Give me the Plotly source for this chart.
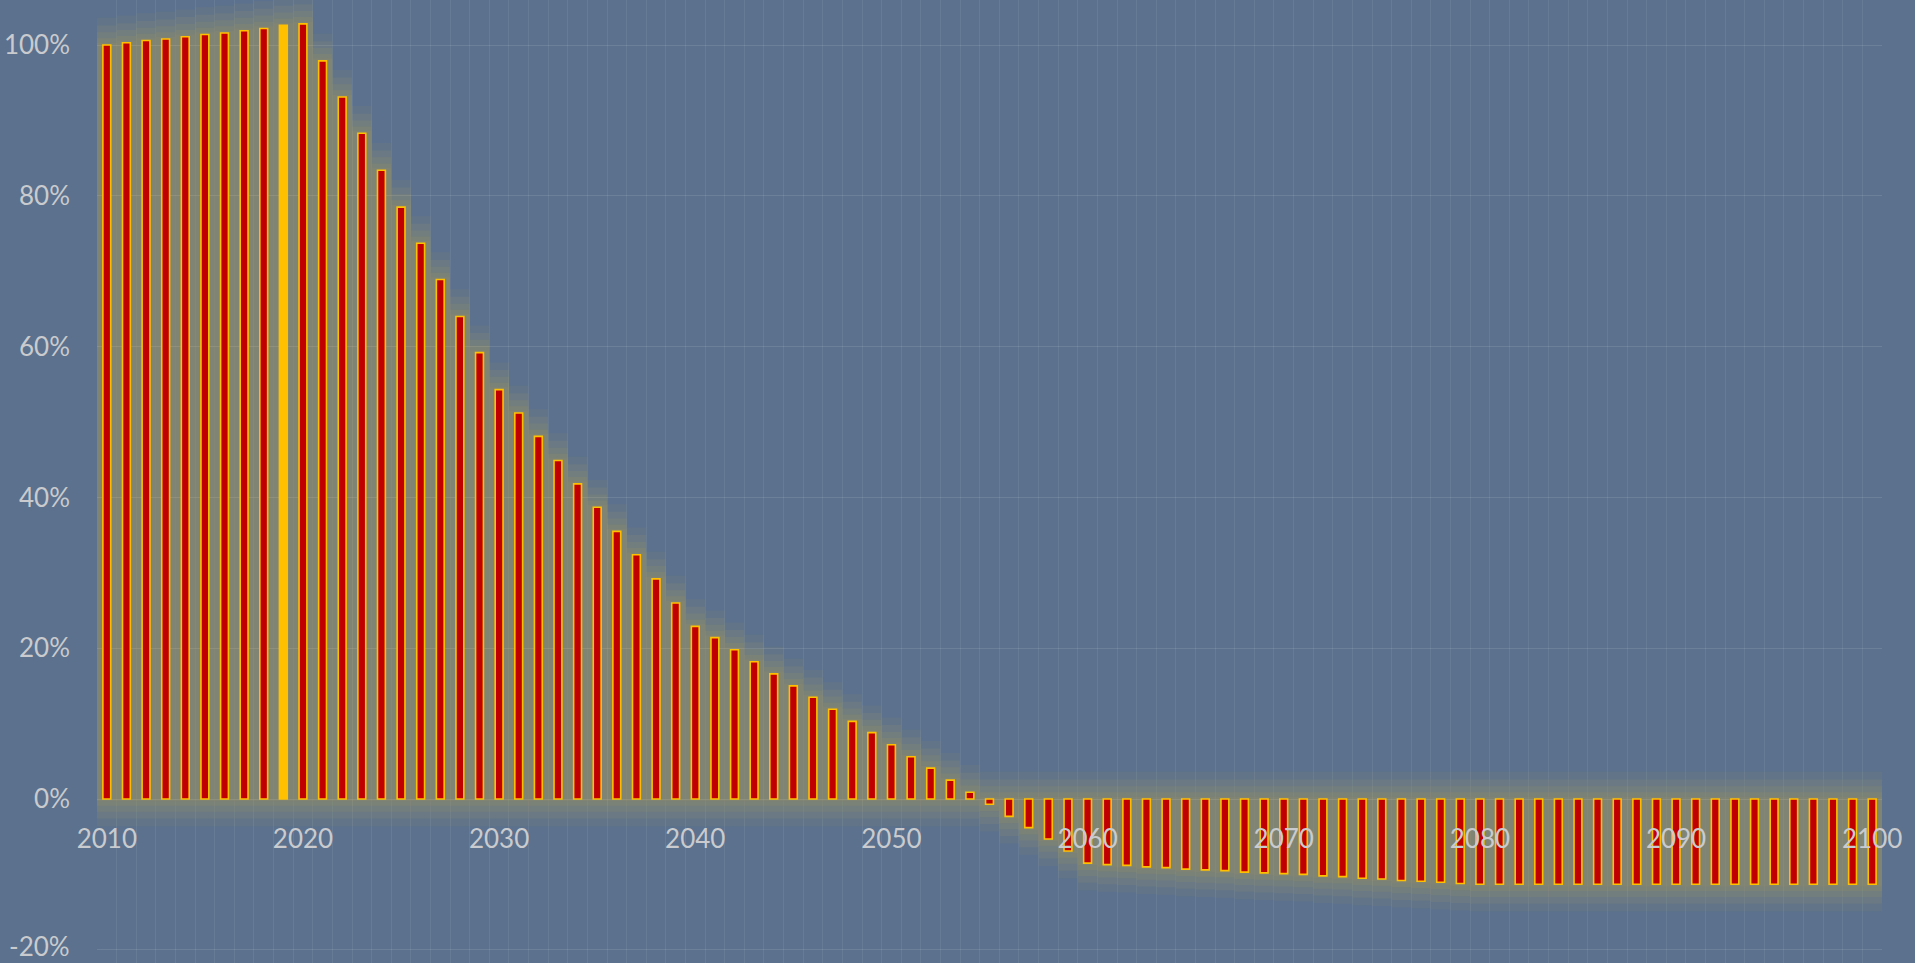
import plotly.graph_objects as go

# ---- data ----
years = list(range(2010, 2101))
values_pct = [
    100.0, 100.3, 100.6, 100.8, 101.1, 101.4, 101.6, 101.9, 102.2, 102.6,  # 2010-2019
    102.8, 97.9, 93.1, 88.3, 83.4, 78.5, 73.7, 68.9, 64.0, 59.2,          # 2020-2029
    54.3, 51.2, 48.1, 44.9, 41.8, 38.7, 35.5, 32.4, 29.2, 26.0,           # 2030-2039
    22.9, 21.4, 19.8, 18.2, 16.6, 15.0, 13.5, 11.9, 10.3, 8.8,            # 2040-2049
    7.2, 5.6, 4.1, 2.5, 0.9, -0.7, -2.3, -3.8, -5.3, -6.9,                # 2050-2059
    -8.5, -8.7, -8.8, -9.0, -9.1, -9.3, -9.4, -9.5, -9.7, -9.8,           # 2060-2069
    -9.9, -10.0, -10.2, -10.3, -10.5, -10.6, -10.8, -10.9, -11.05, -11.2, # 2070-2079
] + [-11.3] * 21                                                          # 2080-2100
highlight_year = 2019

y_tick_vals = [-0.2, 0.0, 0.2, 0.4, 0.6, 0.8, 1.0]
y_tick_text = ["-20%", "0%", "20%", "40%", "60%", "80%", "100%"]
x_tick_vals = list(range(2010, 2101, 10))
x_tick_text = [str(v) for v in x_tick_vals]

values = [v / 100.0 for v in values_pct]

# ---- style ----
BG = "#5B718D"
RED = "#C00000"
GOLD = "#FFC000"
LABEL = "#C9CBCE"
FONT = "Lato, 'Open Sans', sans-serif"
FS = 26
Y_STANDOFF = 26

Y_MIN, Y_MAX = -0.2175, 1.0597

fig = go.Figure()

# soft glow layers around the bars (derived from the values)
glow_layers = [(0.036, 0.045), (0.026, 0.05), (0.017, 0.06), (0.009, 0.06), (0.003, 0.05)]
for pad, alpha in glow_layers:
    bases = [min(v, 0.0) - pad for v in values]
    heights = [abs(v) + 2 * pad for v in values]
    fig.add_trace(go.Bar(
        x=years, y=heights, base=bases, width=1.0,
        marker=dict(color=f"rgba(255,200,40,{alpha})", line=dict(width=0)),
        hoverinfo="skip", showlegend=False,
    ))

fills = [GOLD if y == highlight_year else RED for y in years]
fig.add_trace(go.Bar(
    x=years, y=values, width=0.40,
    marker=dict(color=fills, line=dict(color=GOLD, width=1.6)),
    showlegend=False,
    hovertemplate="%{x}: %{y:.1%}<extra></extra>",
))

axis_pos = (0 - Y_MIN) / (Y_MAX - Y_MIN)

# the lowest tick label sits right at the bottom edge: draw it as an
# annotation nudged up slightly so it is not clipped
axis_text = list(y_tick_text)
axis_text[0] = ""
annotations = [dict(
    x=0, xref="paper", xanchor="right", xshift=-Y_STANDOFF + 1,
    y=y_tick_vals[0], yref="y", yanchor="middle", yshift=4,
    text=y_tick_text[0], showarrow=False,
    font=dict(family=FONT, size=FS, color=LABEL),
)]

fig.update_layout(
    width=1915, height=963,
    margin=dict(l=97, r=33, t=0, b=0, autoexpand=False),
    paper_bgcolor=BG, plot_bgcolor=BG,
    barmode="overlay",
    font=dict(family=FONT, color=LABEL, size=FS),
    showlegend=False,
    annotations=annotations,
    xaxis=dict(
        range=[2009.5, 2100.5],
        tickvals=x_tick_vals, ticktext=x_tick_text,
        showgrid=False, zeroline=False, showline=False,
        ticks="", ticklabelstandoff=22,
        anchor="free", position=axis_pos,
        minor=dict(tick0=2009.5, dtick=1, showgrid=True,
                   gridcolor="rgba(255,255,255,0.07)", gridwidth=1),
        tickfont=dict(size=FS, color=LABEL),
        ticklabeloverflow="allow",
        fixedrange=True,
    ),
    yaxis=dict(
        range=[Y_MIN, Y_MAX],
        tickvals=y_tick_vals, ticktext=axis_text,
        showgrid=True, gridcolor="rgba(255,255,255,0.11)", gridwidth=1.3,
        zeroline=False, showline=False, ticks="",
        ticklabelstandoff=Y_STANDOFF,
        tickfont=dict(size=FS, color=LABEL),
        ticklabeloverflow="allow",
        fixedrange=True,
    ),
)

fig.write_html(
    "out.html",
    config={"displayModeBar": False},
    post_script="document.body.style.margin='0';document.body.style.overflow='hidden';"
                "document.body.style.background='" + BG + "';",
)
